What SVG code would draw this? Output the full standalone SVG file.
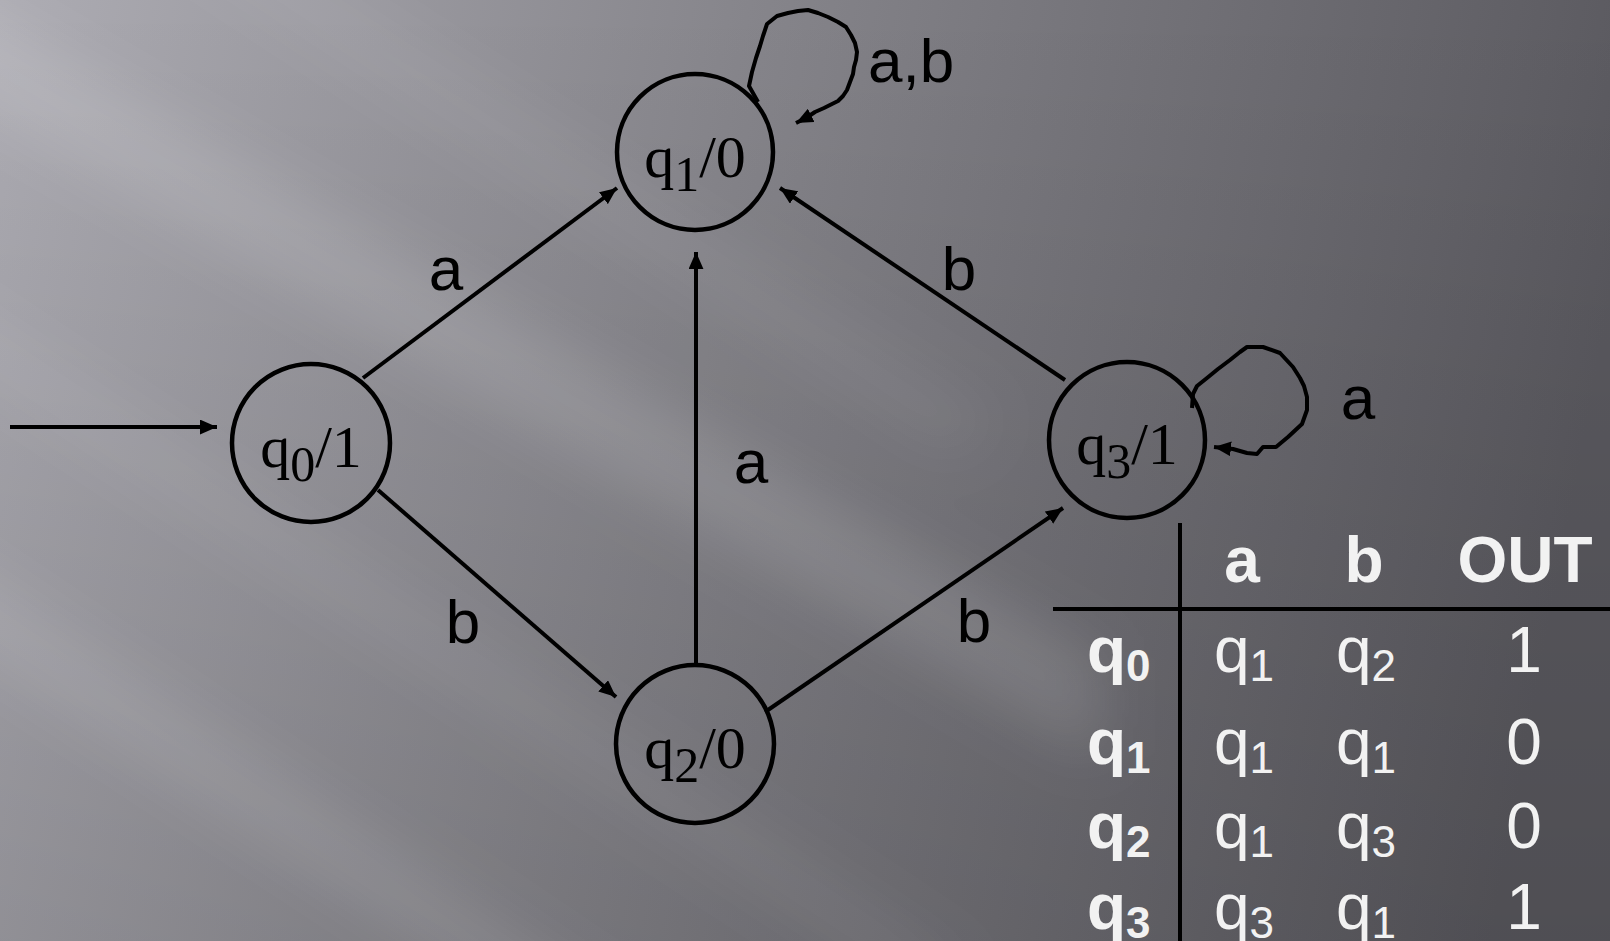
<svg xmlns="http://www.w3.org/2000/svg" width="1610" height="941" viewBox="0 0 1610 941">
  <defs>
    <linearGradient id="bgBase" x1="0" y1="0" x2="1610" y2="300" gradientUnits="userSpaceOnUse">
      <stop offset="0" stop-color="#adacb3"/>
      <stop offset="0.45" stop-color="#86858b"/>
      <stop offset="1" stop-color="#5a595f"/>
    </linearGradient>
    <linearGradient id="bgShade" x1="0" y1="0" x2="0" y2="941" gradientUnits="userSpaceOnUse">
      <stop offset="0" stop-color="#000" stop-opacity="0"/>
      <stop offset="1" stop-color="#000" stop-opacity="0.12"/>
    </linearGradient>
    <filter id="soft" x="-20%" y="-20%" width="140%" height="140%">
      <feGaussianBlur stdDeviation="28"/>
    </filter>
    <marker id="arrow" viewBox="0 0 16 14" refX="16" refY="7" markerWidth="17" markerHeight="15" markerUnits="userSpaceOnUse" orient="auto">
      <path d="M0,0 L16,7 L0,14 Z" fill="#000"/>
    </marker>
    <style>
      .node circle { fill: none; stroke: #000; stroke-width: 4.5; }
      .node text { font-family: "Liberation Serif", "Times New Roman", serif; font-size: 60px; fill: #000; }
      .node .sub { font-size: 50px; }
      .edge { fill: none; stroke: #000; stroke-width: 4; marker-end: url(#arrow); }
      .loop { fill: none; stroke: #000; stroke-width: 4; stroke-linejoin: round; marker-end: url(#arrow); }
      .lbl { font-family: "Liberation Sans", Arial, sans-serif; font-size: 62px; fill: #000; }
      .tbl { font-family: "Liberation Sans", Arial, sans-serif; font-size: 64px; fill: #f2f2f2; }
      .tbl .b { font-weight: bold; }
      .tbl .s { font-size: 44px; }
      .rule { stroke: #000; stroke-width: 4; }
    </style>
  </defs>

  <!-- backdrop: light-to-dark wash with soft diagonal light bands -->
  <rect width="1610" height="941" fill="url(#bgBase)"/>
  <rect width="1610" height="941" fill="url(#bgShade)"/>
  <g filter="url(#soft)" fill="#fff">
    <polygon points="-100,-40 -100,60 1100,760 1100,660" opacity="0.12"/>
    <polygon points="-100,520 -100,600 600,1060 700,1060" opacity="0.10"/>
    <polygon points="-100,260 -100,320 900,980 980,980" opacity="0.07"/>
    <polygon points="100,-100 200,-100 1000,420 950,460" opacity="0.06"/>
  </g>

  <!-- transitions -->
  <g id="connectors">
    <line class="edge" x1="10" y1="427" x2="217" y2="427"/>
    <line class="edge" x1="363" y1="378" x2="617" y2="188"/>
    <line class="edge" x1="378" y1="490" x2="616" y2="697"/>
    <line class="edge" x1="696" y1="665" x2="696" y2="252"/>
    <line class="edge" x1="1065" y1="380" x2="780" y2="188"/>
    <line class="edge" x1="765" y1="712" x2="1063" y2="508"/>
    <path class="loop" d="M758,102 L749,86 L752,72 L756,58 L760,46 L763,36 L767,24 L777,16 L788,13 L798,11 L808,10 L818,13 L828,17 L838,22 L846,27 L851,35 L855,43 L857,52 L856,60 L854,67 L853,74 L850,82 L847,90 L843,96 L838,101 L832,104 L824,108 L815,112 L806,118 L796,123"/>
    <path class="loop" d="M1192,408 L1193,394 L1197,386 L1207,378 L1218,369 L1230,360 L1240,352 L1247,347 L1263,347 L1280,353 L1293,367 L1300,378 L1304,386 L1307,397 L1307,410 L1302,424 L1288,437 L1276,447 L1263,447 L1257,454 L1247,453 L1233,449 L1214,447"/>
    <text class="lbl" x="446" y="290" text-anchor="middle">a</text>
    <text class="lbl" x="463" y="643" text-anchor="middle">b</text>
    <text class="lbl" x="751" y="483" text-anchor="middle">a</text>
    <text class="lbl" x="959" y="290" text-anchor="middle">b</text>
    <text class="lbl" x="974" y="642" text-anchor="middle">b</text>
    <text class="lbl" x="868" y="82">a,b</text>
    <text class="lbl" x="1358" y="419" text-anchor="middle">a</text>
  </g>

  <!-- states -->
  <g id="q0" class="node">
    <circle cx="311" cy="443" r="79"/>
    <text x="311" y="467" text-anchor="middle">q<tspan class="sub" dy="14">0</tspan><tspan dy="-14">/1</tspan></text>
  </g>
  <g id="q1" class="node">
    <circle cx="695" cy="152" r="78"/>
    <text x="695" y="177" text-anchor="middle">q<tspan class="sub" dy="14">1</tspan><tspan dy="-14">/0</tspan></text>
  </g>
  <g id="q2" class="node">
    <circle cx="695" cy="744" r="79"/>
    <text x="695" y="768" text-anchor="middle">q<tspan class="sub" dy="14">2</tspan><tspan dy="-14">/0</tspan></text>
  </g>
  <g id="q3" class="node">
    <circle cx="1127" cy="440" r="78"/>
    <text x="1127" y="464" text-anchor="middle">q<tspan class="sub" dy="14">3</tspan><tspan dy="-14">/1</tspan></text>
  </g>

  <!-- transition / output table -->
  <g id="table" class="tbl">
    <line class="rule" x1="1180" y1="523" x2="1180" y2="941"/>
    <line class="rule" x1="1053" y1="609" x2="1610" y2="609"/>
    <text class="b" x="1242" y="582" text-anchor="middle">a</text>
    <text class="b" x="1364" y="582" text-anchor="middle">b</text>
    <text class="b" x="1525" y="582" text-anchor="middle">OUT</text>

    <text class="b" x="1087" y="672">q<tspan class="s" dy="9">0</tspan></text>
    <text x="1214" y="672">q<tspan class="s" dy="9">1</tspan></text>
    <text x="1336" y="672">q<tspan class="s" dy="9">2</tspan></text>
    <text x="1524" y="672" text-anchor="middle">1</text>

    <text class="b" x="1087" y="764">q<tspan class="s" dy="9">1</tspan></text>
    <text x="1214" y="764">q<tspan class="s" dy="9">1</tspan></text>
    <text x="1336" y="764">q<tspan class="s" dy="9">1</tspan></text>
    <text x="1524" y="764" text-anchor="middle">0</text>

    <text class="b" x="1087" y="848">q<tspan class="s" dy="9">2</tspan></text>
    <text x="1214" y="848">q<tspan class="s" dy="9">1</tspan></text>
    <text x="1336" y="848">q<tspan class="s" dy="9">3</tspan></text>
    <text x="1524" y="848" text-anchor="middle">0</text>

    <text class="b" x="1087" y="929">q<tspan class="s" dy="9">3</tspan></text>
    <text x="1214" y="929">q<tspan class="s" dy="9">3</tspan></text>
    <text x="1336" y="929">q<tspan class="s" dy="9">1</tspan></text>
    <text x="1524" y="929" text-anchor="middle">1</text>
  </g>
</svg>
